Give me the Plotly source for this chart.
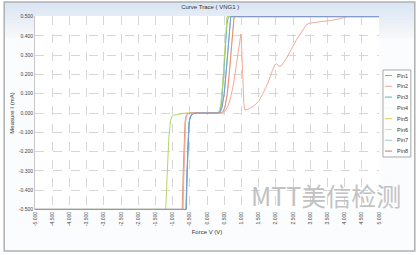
import plotly.graph_objects as go

# ---------------- data ----------------
pins = ["Pin1", "Pin2", "Pin3", "Pin4", "Pin5", "Pin6", "Pin7", "Pin8"]
pin_colors = ["#8aa4cf", "#f2a096", "#5db3b8", "#f4f6f8", "#e8c459", "#dccdec", "#a3c2cf", "#e26a60"]

# Pin1 (blue)
pin1_v = [-5, -0.61, -0.59, -0.56, -0.53, -0.50, -0.46, -0.40, -0.30, 0.30, 0.38, 0.44, 0.50, 0.56, 0.61, 0.66, 0.69, 5]
pin1_i = [-0.5, -0.5, -0.36, -0.18, -0.07, -0.03, -0.012, -0.004, 0, 0, 0.004, 0.03, 0.10, 0.22, 0.34, 0.45, 0.5, 0.5]
# Pin2 (salmon)
pin2_v = [-5, -0.70, -0.68, -0.65, -0.62, -0.59, -0.55, -0.50, 0.40, 0.48, 0.55, 0.62, 0.70, 0.78, 0.86, 0.92, 0.96, 0.985,
          1.01, 1.04, 1.07, 1.10, 1.20, 1.35, 1.50, 1.65, 1.78, 1.90, 1.97, 2.02, 2.06, 2.10, 2.16, 2.30, 2.45, 2.60, 2.75,
          2.88, 2.96, 3.10, 3.30, 3.50, 3.70, 3.90, 4.07, 5]
pin2_i = [-0.5, -0.5, -0.35, -0.12, -0.03, -0.01, -0.003, 0, 0, 0.004, 0.015, 0.04, 0.09, 0.16, 0.25, 0.33, 0.38, 0.41,
          0.33, 0.18, 0.05, 0.015, 0.02, 0.035, 0.06, 0.11, 0.16, 0.22, 0.25, 0.255, 0.247, 0.242, 0.245, 0.28, 0.33, 0.38, 0.42,
          0.455, 0.465, 0.47, 0.474, 0.477, 0.482, 0.49, 0.5, 0.5]
# Pin3 (teal)
pin3_v = [-5, -0.60, -0.58, -0.55, -0.52, -0.48, -0.42, -0.35, 0.30, 0.36, 0.42, 0.48, 0.53, 0.58, 0.62, 5]
pin3_i = [-0.5, -0.5, -0.33, -0.14, -0.05, -0.015, -0.004, 0, 0, 0.004, 0.05, 0.19, 0.33, 0.46, 0.5, 0.5]
# Pin4 (pale)
pin4_v = [-5, -0.60, -0.55, -0.50, -0.40, 0.30, 0.40, 0.50, 0.60, 0.68, 5]
pin4_i = [-0.5, -0.5, -0.15, -0.02, 0, 0, 0.02, 0.12, 0.33, 0.5, 0.5]
# Pin5 (yellow-green)
pin5_v = [-5, -1.20, -1.16, -1.11, -1.06, -1.02, -0.98, -0.90, -0.75, -0.60, 0.30, 0.35, 0.40, 0.46, 0.51, 0.55, 0.58, 5]
pin5_i = [-0.5, -0.5, -0.33, -0.13, -0.04, -0.018, -0.012, -0.008, -0.004, 0, 0, 0.004, 0.04, 0.16, 0.31, 0.43, 0.5, 0.5]
# Pin6 (lavender)
pin6_v = [-5, -0.70, -0.66, -0.62, -0.58, -0.50, 0.42, 0.50, 0.60, 0.70, 0.78, 5]
pin6_i = [-0.5, -0.5, -0.22, -0.05, -0.01, 0, 0, 0.01, 0.10, 0.30, 0.5, 0.5]
# Pin7 (light blue-gray)
pin7_v = [-5, -0.61, -0.56, -0.51, -0.42, 0.30, 0.40, 0.50, 0.60, 0.69, 5]
pin7_i = [-0.5, -0.5, -0.18, -0.03, 0, 0, 0.01, 0.10, 0.30, 0.5, 0.5]
# Pin8 (orange-red)
pin8_v = [-5, -0.72, -0.70, -0.67, -0.64, -0.61, -0.57, -0.52, -0.46, 0.40, 0.46, 0.52, 0.58, 0.64, 0.70, 0.75, 0.79, 5]
pin8_i = [-0.5, -0.5, -0.36, -0.16, -0.05, -0.015, -0.005, -0.001, 0, 0, 0.006, 0.03, 0.09, 0.19, 0.32, 0.43, 0.5, 0.5]

pin_v = [pin1_v, pin2_v, pin3_v, pin4_v, pin5_v, pin6_v, pin7_v, pin8_v]
pin_i = [pin1_i, pin2_i, pin3_i, pin4_i, pin5_i, pin6_i, pin7_i, pin8_i]
line_colors = ["#7b9bd3", "#f5aa9c", "#4fb0b3", "#f4f6f8", "#b2d768", "#dccdec", "#a3c2cf", "#e99260"]

x_ticks = [-5 + 0.5 * k for k in range(21)]
x_ticktext = ["%.3f" % v for v in x_ticks]
y_ticks = [-0.5 + 0.1 * k for k in range(11)]
y_ticktext = ["%.3f" % (0 if abs(v) < 1e-9 else v) for v in y_ticks]

title_text = "Curve Trace ( VNG1 )"
x_title = "Force V (V)"
y_title = "Measure I (mA)"
watermark = "MTT美信检测"

# ---------------- figure ----------------
W, H = 418, 255
L, R, T, B = 33, 39, 16, 45
PW, PH = W - L - R, H - T - B

def px(x):
    return (x - L) / PW

def py(y):
    return (H - B - y) / PH

fig = go.Figure()
draw_order = [3, 5, 6, 2, 4, 7, 1, 0]
for k in draw_order:
    fig.add_trace(go.Scatter(x=pin_v[k], y=pin_i[k], mode="lines", name=pins[k],
                             line=dict(color=line_colors[k], width=1), showlegend=False))

shapes = []
# background gradient bands
top_col = (218, 229, 244)
nb = 12
for b in range(nb):
    y0 = 2 + b * 3
    t = b / nb
    c = tuple(int(top_col[j] + (250 - top_col[j]) * t) for j in range(3))
    shapes.append(dict(type="rect", xref="paper", yref="paper", x0=px(2), x1=px(415),
                       y0=py(y0 + 3), y1=py(y0), fillcolor="rgb(%d,%d,%d)" % c, line=dict(width=0), layer="below"))
shapes.append(dict(type="rect", xref="paper", yref="paper", x0=px(2), x1=px(415), y0=py(251), y1=py(38),
                   fillcolor="rgb(251,252,254)", line=dict(width=0), layer="below"))
# plot area white
shapes.append(dict(type="rect", xref="paper", yref="paper", x0=0, x1=1, y0=0, y1=1,
                   fillcolor="white", line=dict(width=0), layer="below"))
# outer frame
shapes.append(dict(type="rect", xref="paper", yref="paper", x0=px(2), x1=px(415), y0=py(251), y1=py(2),
                   line=dict(color="#b0b0b0", width=1.5), layer="above"))

# manual legend
lx0, lx1, ly0, ly1 = 383, 411, 70, 157
shapes.append(dict(type="rect", xref="paper", yref="paper", x0=px(lx0), x1=px(lx1), y0=py(ly1), y1=py(ly0),
                   fillcolor="white", line=dict(color="#a8a8a8", width=1), layer="above"))
annotations = []
for k in range(8):
    yy = 75.5 + 10.8 * k
    shapes.append(dict(type="line", xref="paper", yref="paper", x0=px(385), x1=px(392), y0=py(yy), y1=py(yy),
                       line=dict(color=pin_colors[k], width=1), layer="above"))
    annotations.append(dict(text=pins[k], xref="paper", yref="paper", x=px(395), y=py(yy), xanchor="left",
                            yanchor="middle", showarrow=False, font=dict(size=5.5, color="#333", family="Liberation Sans")))

# watermark
annotations.append(dict(text=watermark, xref="paper", yref="paper", x=px(326), y=py(195), xanchor="center",
                        yanchor="middle", showarrow=False,
                        font=dict(size=25, color="#c2c2c2", family="Noto Sans CJK SC")))

fig.update_layout(
    width=W, height=H, margin=dict(l=L, r=R, t=T, b=B),
    paper_bgcolor="white", plot_bgcolor="white",
    title=dict(text=title_text, x=px(207), xanchor="center", y=1 - 7 / H, yanchor="middle",
               font=dict(size=6, color="#333", family="Liberation Sans")),
    shapes=shapes, annotations=annotations, showlegend=False,
    xaxis=dict(range=[-5, 5], tickvals=x_ticks, ticktext=x_ticktext, tickangle=-90,
               tickfont=dict(size=5, color="#444", family="Liberation Sans"),
               showgrid=True, gridcolor="#d6d6d6", griddash="dash", gridwidth=1,
               zeroline=False, showline=False, ticks="",
               title=dict(text=x_title, font=dict(size=6, color="#333", family="Liberation Sans"), standoff=4)),
    yaxis=dict(range=[-0.503, 0.503], tickvals=y_ticks, ticktext=y_ticktext,
               tickfont=dict(size=5, color="#444", family="Liberation Sans"),
               showgrid=True, gridcolor="#d6d6d6", griddash="dash", gridwidth=1,
               zeroline=False, showline=True, linecolor="#c8c8c8", ticks="",
               title=dict(text=y_title, font=dict(size=6, color="#333", family="Liberation Sans"), standoff=3)),
)

fig.write_html("out.html")
